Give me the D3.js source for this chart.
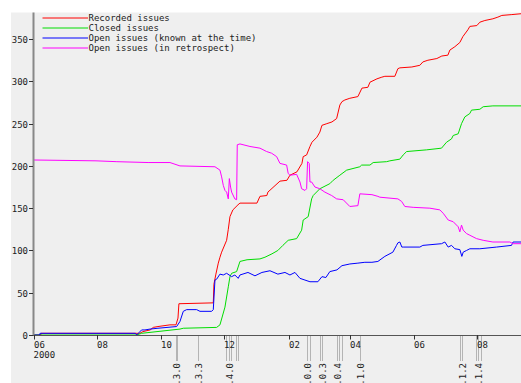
<!DOCTYPE html>
<html><head><meta charset="utf-8">
<script src="https://cdn.jsdelivr.net/npm/d3@7"></script>
<style>
html,body{margin:0;padding:0;background:#fff;}
svg{display:block;}
text{font-family:"DejaVu Sans Mono",monospace;font-size:9px;fill:#222;}
</style></head>
<body>
<svg id="c" width="521" height="383"></svg>
<script>
// ---- data (day offsets from 2000-06-01, value) ----
const startDate = "2000-06-01";
const endDate = "2001-09-12";
const seriesNames = ["Recorded issues","Closed issues","Open issues (known at the time)","Open issues (in retrospect)"];
const seriesColors = ["#ff0000","#00dd00","#0000ff","#ff00ff"];

const recorded = [[0,0],[7,0],[7.2,2],[102,2],[105,4],[112,6],[115,9],[119.5,10],[131,12],[136.8,12],[138.7,20],[139.6,37],[172.6,38],[173.2,60],[175.1,72],[177.4,85],[179,92],[180.6,98],[185.4,112],[187,125],[188.6,140],[191.4,148],[196.3,154],[198.2,156],[214.5,156],[217.4,164],[224,165],[225,169],[236.6,182],[243.3,183],[246.2,189],[252.9,193],[257.7,203],[258.9,211],[262.2,213],[265.4,223],[267.3,228],[272.1,234],[274.9,240],[276.9,248],[281.6,250],[286.5,252],[291,256],[294.1,272],[296.1,276],[298.9,278],[303.7,280],[311.4,282],[315.3,292],[321,293],[323,299],[329.7,303],[334.4,305],[337.3,306],[346.9,306],[349.8,315],[351.7,316],[363.2,317],[370.9,319],[373.8,323],[378.6,325],[387.2,327],[392,330],[397.8,331],[399.7,337],[404.5,341],[409.3,346],[412.2,353],[417,361],[418.9,365],[425.6,366],[428.5,370],[433.3,372],[441,374],[445.8,376],[449.6,378],[459.2,379],[468,380]];

const closed = [[0,0],[99,0],[103.8,2],[140.6,7],[143.8,8],[175.8,9],[179,12],[182.2,26],[183.8,33],[187,57],[188.6,69],[190.2,73],[195,75],[198.2,87],[205,89],[217.4,90],[222.2,92],[228.9,96],[234.6,100],[239.4,106],[244.5,112],[252.6,114],[257.4,124],[258.9,136],[263.7,140],[267,161],[268.5,165],[274.9,173],[284.5,179],[287.7,183],[294.1,189],[300.6,195],[313.3,199],[315,201],[323,201],[326.1,204],[339,205],[342.1,206],[351.7,208],[354.9,213],[358.2,217],[377.4,219],[391.7,221],[396.5,228],[401.3,232],[402.9,236],[407.7,238],[410.9,250],[414.1,258],[418.9,262],[420.5,266],[428.5,267],[431.7,270],[441,271],[468,271]];

const openKnown = [[0,0],[6,0],[6.2,2],[98,2],[99,0],[103.8,6],[107,6],[111.8,7],[119.5,8],[137.4,10],[140.6,16],[143.8,28],[147,30],[156.6,30],[159.8,28],[171,28],[172.6,30],[174.2,65],[175.8,66],[179,72],[182.2,71],[185.4,73],[190.2,69],[193.3,71],[196.5,67],[198.2,71],[205.9,74],[212.6,70],[219.3,74],[227,76],[234.6,72],[241.4,74],[246.2,71],[251,74],[255.8,67],[260.6,65],[265.4,63],[273,63],[276.9,69],[280.7,68],[284.5,75],[291.3,77],[296.1,82],[303.7,84],[311.4,85],[318.1,86],[324.9,86],[330.6,87],[337.3,93],[345,98],[348.5,106],[349.8,109],[351.7,110],[353.6,104],[354.9,104],[370.9,104],[373.8,106],[391.7,108],[394.9,110],[398.1,104],[401.3,106],[404.5,102],[409.3,101],[411.2,93],[412.5,98],[415.7,100],[418.9,102],[428.5,102],[444.5,104],[458.9,106],[460.4,110],[468,110]];

const openRetro = [[0,207],[60,206],[80,205],[110,204],[131,204],[140.6,200],[174.2,199],[179,195],[180.6,187],[182.2,177],[183.8,171],[185.4,169],[187,161],[188,185],[189.2,175],[190.2,169],[193.3,161],[195,160],[195.6,225],[198.2,226],[207.8,223],[217.4,221],[223.8,217],[228.6,215],[233.4,211],[236.6,203],[243,201],[244.5,191],[246.2,189],[252.6,190],[255.8,181],[257.4,173],[260.6,171],[262.2,173],[263.1,205],[264.7,203],[265.4,181],[267,181],[270.2,175],[274.9,173],[279.7,169],[286.2,165],[291,161],[297.3,160],[303.7,152],[311.4,153],[313.3,167],[324.9,166],[330.6,164],[332.5,163],[349.8,161],[353.4,158],[356.5,152],[364.5,151],[380.5,150],[390.1,148],[393.3,144],[398.1,136],[402.9,134],[407.7,128],[409.3,122],[410.9,130],[412.5,124],[415.7,120],[418.9,118],[425.3,114],[431.7,112],[441,110],[457.3,110],[460.4,108],[468,108]];

const yTicks = [0,50,100,150,200,250,300,350];
const xTickDates = ["2000-06-01","2000-08-01","2000-10-01","2000-12-01","2001-02-01","2001-04-01","2001-06-01","2001-08-01"];
const xTickLabels = ["06","08","10","12","02","04","06","08"];
const yearLabel = "2000";

const releaseDates = ["2000-10-16","2000-10-17","2000-11-06","2000-12-03","2000-12-06","2000-12-08","2000-12-12","2000-12-14","2001-02-19","2001-02-21","2001-03-03","2001-03-05","2001-03-19","2001-03-21","2001-03-24","2001-04-10","2001-07-15","2001-07-17","2001-07-31","2001-08-02","2001-08-05"];
const releaseLabels = ["1.3.0","","1.3.3","","1.4.0","","","","2.0.0","","","2.0.3","2.0.4","","","2.1.0","","2.1.2","","2.1.4",""];

// ---- drawing ----
(function () {
const W = 521, H = 383;
const pl = 33.5, pr = 521, pt = 12.5, pb = 335;
const parse = d3.utcParse("%Y-%m-%d");
const t0 = parse(startDate);
const x = d3.scaleUtc().domain([t0, parse(endDate)]).range([pl, pr]);
const y = d3.scaleLinear().domain([0, 350]).range([pb, 39.1]);
const dayToDate = d => new Date(t0.getTime() + d * 864e5);

const svg = d3.select("#c");
svg.append("rect").attr("x", 11).attr("y", pt).attr("width", W - 11).attr("height", H - pt).attr("fill", "#efefef");

svg.append("defs").append("clipPath").attr("id", "clip").append("rect")
  .attr("x", pl).attr("y", pt).attr("width", pr - pl).attr("height", pb - pt);

// release markers
const rel = svg.append("g");
releaseDates.forEach((d, i) => {
  const xx = Math.round(x(parse(d))) + 0.5;
  rel.append("line").attr("x1", xx).attr("x2", xx).attr("y1", pb).attr("y2", 361)
    .attr("stroke", "#b4b4b4").attr("stroke-width", 1);
  if (releaseLabels[i]) {
    rel.append("text").attr("transform", `translate(${xx + 3},363) rotate(-90)`)
      .attr("text-anchor", "end").text(releaseLabels[i]);
  }
});

// lines
const line = d3.line().x(d => x(dayToDate(d[0]))).y(d => y(d[1]));
const g = svg.append("g").attr("clip-path", "url(#clip)");
[recorded, closed, openKnown, openRetro].forEach((s, i) => {
  g.append("path").attr("d", line(s)).attr("fill", "none")
    .attr("stroke", seriesColors[i]).attr("stroke-width", 1);
});

// y axis
svg.append("line").attr("x1", 33.5).attr("x2", 33.5).attr("y1", pt).attr("y2", pb)
  .attr("stroke", "#888").attr("stroke-width", 2);
const ya = svg.append("g");
yTicks.forEach(v => {
  const yy = Math.round(y(v)) + 0.5;
  ya.append("line").attr("x1", 29).attr("x2", 33).attr("y1", yy).attr("y2", yy).attr("stroke", "#333");
  ya.append("text").attr("x", 28).attr("y", yy + 3).attr("text-anchor", "end").text(v);
});

// x axis
svg.append("line").attr("x1", 33).attr("x2", pr).attr("y1", 335.5).attr("y2", 335.5)
  .attr("stroke", "#555").attr("stroke-width", 1);
const xa = svg.append("g");
xTickDates.forEach((d, i) => {
  const xx = Math.round(x(parse(d))) + 0.5;
  xa.append("line").attr("x1", xx).attr("x2", xx).attr("y1", 335).attr("y2", 339.5).attr("stroke", "#333");
  xa.append("text").attr("x", xx - 0.5).attr("y", 348).text(xTickLabels[i]);
});
xa.append("text").attr("x", x(parse(xTickDates[0]))).attr("y", 358).text(yearLabel);

// legend
const lg = svg.append("g");
seriesNames.forEach((n, i) => {
  const yy = 18 + i * 10;
  lg.append("line").attr("x1", 42.5).attr("x2", 88).attr("y1", yy).attr("y2", yy)
    .attr("stroke", seriesColors[i]).attr("stroke-width", 1);
  lg.append("text").attr("x", 88.5).attr("y", yy + 3).text(n);
});
})();
</script>
</body></html>
